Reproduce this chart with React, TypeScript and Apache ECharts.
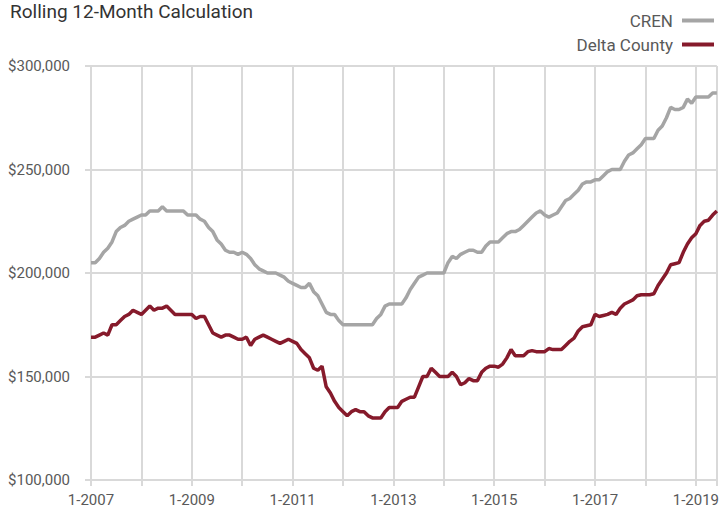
import React, { useEffect, useRef } from "react";
import * as echarts from "echarts";

const startYear = 2007;
const xTickLabels = ["1-2007", "1-2009", "1-2011", "1-2013", "1-2015", "1-2017", "1-2019"];
const yTickValues = [100, 150, 200, 250, 300];

// monthly values (thousands of dollars), Jan 2007 .. Jun 2019
const crenValues = [
  205, 205, 207, 210, 212, 215, 220, 222, 223, 225, 226, 227,
  228, 228, 230, 230, 230, 232, 230, 230, 230, 230, 230, 228,
  228, 228, 226, 225, 222, 220, 216, 214, 211, 210, 210, 209,
  210, 209, 207, 204, 202, 201, 200, 200, 200, 199, 198, 196,
  195, 194, 193, 193, 195, 191, 189, 185, 181, 180, 180, 177,
  175, 175, 175, 175, 175, 175, 175, 175, 178, 180, 184, 185,
  185, 185, 185, 188, 192, 195, 198, 199, 200, 200, 200, 200,
  200, 205, 208, 207, 209, 210, 211, 211, 210, 210, 213, 215,
  215, 215, 217, 219, 220, 220, 221, 223, 225, 227, 229, 230,
  228, 227, 228, 229, 232, 235, 236, 238, 240, 243, 244, 244,
  245, 245, 247, 249, 250, 250, 250, 254, 257, 258, 260, 262,
  265, 265, 265, 269, 271, 275, 280, 279, 279, 280, 284, 282,
  285, 285, 285, 285, 287, 287,
];

const deltaValues = [
  169, 169, 170, 171, 170, 175, 175, 177, 179, 180, 182, 181,
  180, 182, 184, 182, 183, 183, 184, 182, 180, 180, 180, 180,
  180, 178, 179, 179, 175, 171, 170, 169, 170, 170, 169, 168,
  168, 169, 165, 168, 169, 170, 169, 168, 167, 166, 167, 168,
  167, 166, 163, 161, 159, 154, 153, 155, 145, 142, 138, 135,
  133, 131, 133, 134, 133, 133, 131, 130, 130, 130, 133, 135,
  135, 135, 138, 139, 140, 140, 145, 150, 150, 154, 152, 150,
  150, 150, 152, 150, 146, 147, 149, 148, 148, 152, 154, 155,
  155, 154.5, 156, 159, 163, 160, 160, 160, 162, 162.5, 162, 162,
  162, 163.5, 163, 163, 163, 165, 167, 168.5, 172, 174, 174.5, 175,
  180, 179, 179.5, 180, 181, 180, 183, 185, 186, 187, 189, 189.5,
  189.5, 189.5, 190, 194, 197, 200, 204, 204.5, 205, 210, 214, 217,
  219, 223, 225, 225.5, 228, 230,
];

const seriesNames = ["CREN", "Delta County"];
const seriesColors = ["#a5a5a5", "#861a2b"];

const FONT = "Roboto, 'Liberation Sans', Arial, sans-serif";

export default function App() {
  const ref = useRef<HTMLDivElement>(null);
  useEffect(() => {
    if (!ref.current) return;
    const chart = echarts.init(ref.current, null, { renderer: "svg" });
    const lastIndex = crenValues.length - 1;
    chart.setOption({
      animation: false,
      textStyle: { fontFamily: FONT },
      title: {
        text: "Rolling 12-Month Calculation",
        left: 5,
        top: -3,
        textStyle: { fontSize: 19, fontWeight: "normal", color: "#333333", fontFamily: FONT },
      },
      legend: {
        orient: "vertical",
        right: 3,
        top: 7,
        align: "right",
        icon: "rect",
        itemWidth: 32,
        itemHeight: 4,
        itemGap: 7,
        textStyle: {
          fontSize: 17,
          lineHeight: 17,
          color: "#595959",
          fontFamily: FONT,
          padding: [0, 4, 0, 0],
        },
        data: seriesNames,
      },
      grid: { left: 91, right: 3, top: 66, bottom: 35, containLabel: false },
      xAxis: {
        type: "value",
        min: 0,
        max: lastIndex,
        interval: 12,
        axisLine: { show: true, lineStyle: { color: "#d9d9d9", width: 2 } },
        axisTick: { show: true, length: 6, lineStyle: { color: "#d9d9d9", width: 2 } },
        splitLine: { show: true, lineStyle: { color: "#d9d9d9", width: 2 } },
        axisLabel: {
          margin: 12,
          fontSize: 15,
          color: "#595959",
          fontFamily: FONT,
          showMaxLabel: true,
          formatter: (v: number) => {
            if (v % 24 !== 0) return "";
            const idx = v / 24;
            return xTickLabels[idx] ?? `1-${startYear + v / 12}`;
          },
        },
      },
      yAxis: {
        type: "value",
        min: yTickValues[0],
        max: yTickValues[yTickValues.length - 1],
        interval: 50,
        axisLine: { show: true, lineStyle: { color: "#d9d9d9", width: 2 } },
        axisTick: { show: true, length: 6, lineStyle: { color: "#d9d9d9", width: 2 } },
        splitLine: { show: true, lineStyle: { color: "#d9d9d9", width: 2 } },
        axisLabel: {
          margin: 21,
          fontSize: 15,
          color: "#595959",
          fontFamily: FONT,
          formatter: (v: number) => `$${v},000`,
        },
      },
      series: [
        {
          name: seriesNames[0],
          type: "line",
          symbol: "none",
          data: crenValues.map((v, i) => [i, v]),
          lineStyle: { color: seriesColors[0], width: 3.5 },
          itemStyle: { color: seriesColors[0] },
          z: 2,
        },
        {
          name: seriesNames[1],
          type: "line",
          symbol: "none",
          data: deltaValues.map((v, i) => [i, v]),
          lineStyle: { color: seriesColors[1], width: 3.5 },
          itemStyle: { color: seriesColors[1] },
          z: 3,
        },
      ],
    });
    return () => chart.dispose();
  }, []);
  return (
    <div
      ref={ref}
      style={{ position: "fixed", left: 0, top: 0, width: 722, height: 515, background: "#ffffff" }}
    />
  );
}
